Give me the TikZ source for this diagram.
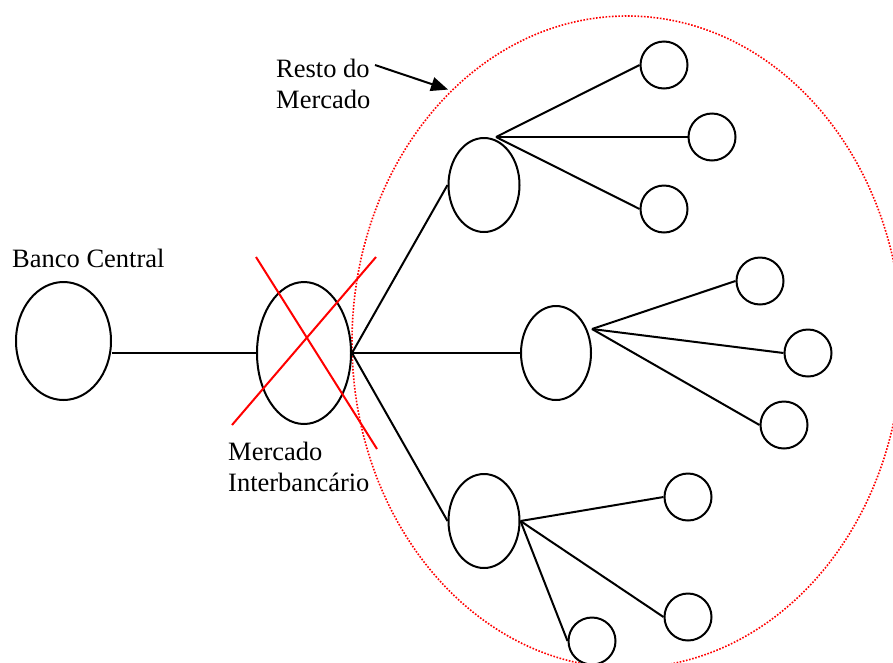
\documentclass[tikz,border=0pt]{standalone}
\usepackage{fontspec}
\setmainfont{Liberation Serif}
\usetikzlibrary{shapes.geometric,arrows.meta}
\tikzset{
  lbl/.style={inner sep=0pt, font=\fontsize{26.5}{30.5}\selectfont, align=left},
  bigell/.style={ellipse, draw, line width=2pt, inner sep=0pt},
  leaf/.style={circle, draw, line width=2pt, inner sep=0pt, minimum size=47pt},
  conn/.style={line width=2pt},
  cross/.style={red, line width=2pt},
  group/.style={ellipse, draw=red, line width=1.6pt, dash pattern=on 1.6pt off 1.6pt, inner sep=0pt}
}
\begin{document}
\begin{tikzpicture}[x=1pt,y=-1pt]
\useasboundingbox (0,0) rectangle (893,662);
\clip (0,0) rectangle (893,662);
% group ellipse
\node[group, minimum width=550pt, minimum height=652pt] (resto) at (627,342) {};
% main nodes
\node[bigell, minimum width=95pt, minimum height=118pt] (banco) at (63.5,341) {};
\node[bigell, minimum width=94pt, minimum height=142pt] (inter) at (304,353) {};
\node[bigell, minimum width=71pt, minimum height=94pt] (t1) at (484,185) {};
\node[bigell, minimum width=70pt, minimum height=94pt] (m2) at (556,353) {};
\node[bigell, minimum width=71pt, minimum height=94pt] (b3) at (484,521) {};
% leaves
\node[leaf] (c1) at (664,65) {};
\node[leaf] (c2) at (712,137) {};
\node[leaf] (c3) at (664,209) {};
\node[leaf] (c4) at (760,281) {};
\node[leaf] (c5) at (808,353) {};
\node[leaf] (c6) at (784,425) {};
\node[leaf] (c7) at (688,497) {};
\node[leaf] (c8) at (688,617) {};
\node[leaf] (c9) at (592,641) {};
% hubs
\coordinate (h1) at (496,137);
\coordinate (h2) at (592,329);
% labels
\node[lbl, anchor=base west] (bancolbl) at (12,267) {Banco Central};
\node[lbl, anchor=north west] (restolbl) at (276,59) {Resto do\\Mercado};
\node[lbl, anchor=north west] (interlbl) at (228,442) {Mercado\\Interbancário};
% connectors
\draw[conn] (banco.east |- inter.west) -- (inter.west);
\draw[conn] (inter.east) -- (t1.west);
\draw[conn] (inter.east) -- (m2.west);
\draw[conn] (inter.east) -- (b3.west);
\draw[conn] (h1) -- (c1.west);
\draw[conn] (h1) -- (c2.west);
\draw[conn] (h1) -- (c3.west);
\draw[conn] (h2) -- (c4.west);
\draw[conn] (h2) -- (c5.west);
\draw[conn] (h2) -- (c6.west);
\draw[conn] (b3.east) -- (c7.west);
\draw[conn] (b3.east) -- (c8.west);
\draw[conn] (b3.east) -- (c9.west);
% label arrow
\coordinate (arrstart) at (375,65);
\draw[line width=2pt, -{Triangle[length=17pt,width=14pt]}, shorten >=3pt] (arrstart) -- (resto.125);
% red cross
\draw[cross] (256,257) -- (377,449);
\draw[cross] (376,257) -- (232,425);
\end{tikzpicture}
\end{document}
